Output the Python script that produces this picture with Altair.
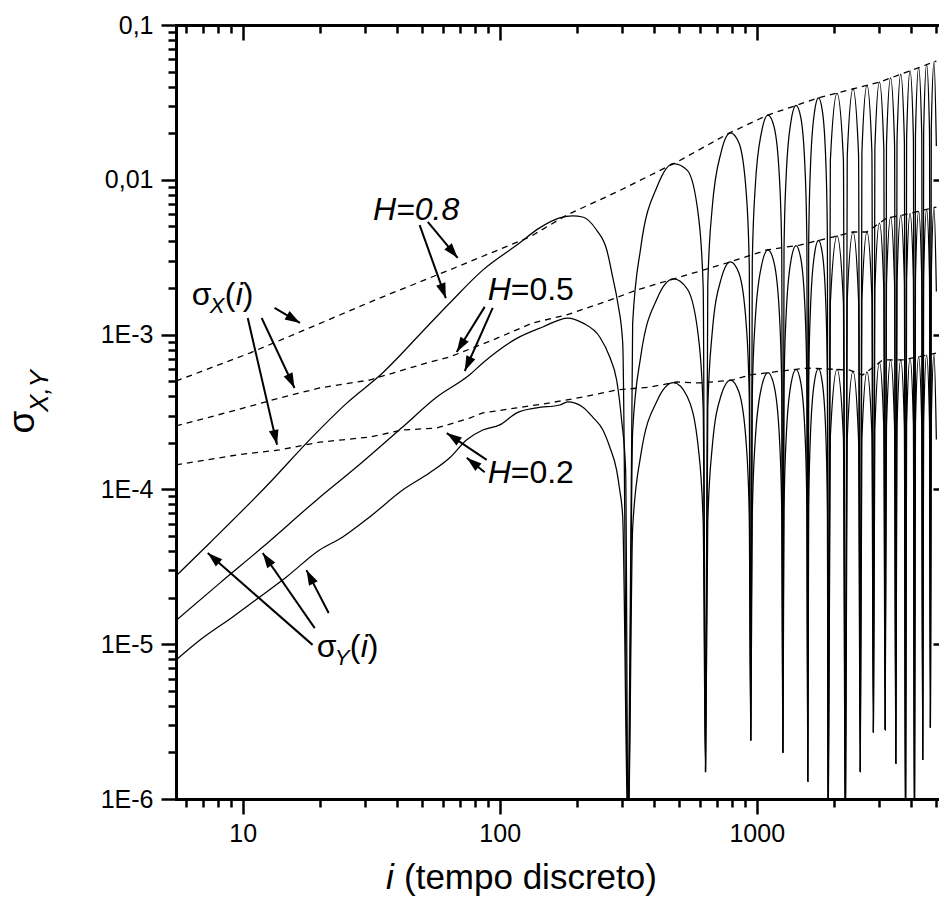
import math
import altair as alt
import pandas as pd

FONT = "Liberation Sans"

# ---------------- values ----------------
# sigma_X(i)  (dashed curves)
DX08_I = [5.5, 10.65, 16.7, 32.6, 63.9, 130.8, 182.3, 285.3, 488, 785, 1104, 1406, 1728, 2363, 3010, 5000]
DX08_V = [5.01e-4, 7.6e-4, 1.04e-3, 1.67e-3, 2.62e-3, 4.27e-3, 5.92e-3, 8.34e-3, 1.30e-2, 2.01e-2,
          2.62e-2, 3.0e-2, 3.38e-2, 3.86e-2, 4.28e-2, 5.85e-2]
DX05_I = [5.5, 9.48, 13.93, 19.9, 31.2, 53.4, 63.9, 93.9, 134.4, 182.3, 268, 341, 488, 785, 1094,
          1470, 1975, 2363, 2679, 3204, 3698, 5000]
DX05_V = [2.57e-4, 3.26e-4, 3.90e-4, 4.52e-4, 5.09e-4, 6.65e-4, 7.17e-4, 9.22e-4, 1.19e-3, 1.34e-3,
          1.67e-3, 1.94e-3, 2.32e-3, 2.94e-3, 3.52e-3, 3.79e-3, 4.27e-3, 4.60e-3, 4.60e-3, 5.66e-3,
          5.92e-3, 6.67e-3]
DX02_I = [5.5, 9.48, 13.93, 19.9, 24.5, 31.2, 41.9, 56.9, 76.4, 85.9, 116.5, 156.5, 210.4, 285,
          383.5, 488, 600, 806, 939, 1154, 1565, 2301, 2585, 3093, 3698, 5000]
DX02_V = [1.44e-4, 1.67e-4, 1.80e-4, 2.02e-4, 2.09e-4, 2.18e-4, 2.42e-4, 2.49e-4, 2.89e-4, 3.12e-4,
          3.36e-4, 3.62e-4, 3.95e-4, 4.39e-4, 4.58e-4, 4.94e-4, 4.87e-4, 5.09e-4, 5.48e-4, 5.73e-4,
          6.08e-4, 5.90e-4, 5.48e-4, 6.86e-4, 6.86e-4, 7.60e-4]

# sigma_Y(i)  (solid curves) - part before the first zero
SY08_I = [5.5, 7.44, 12.7, 18.2, 25.4, 35.0, 52.0, 63.9, 85.9, 116.5, 143, 171, 192, 210, 238, 261,
          275, 288, 301]
SY08_V = [2.76e-5, 4.51e-5, 1.10e-4, 2.09e-4, 3.61e-4, 5.65e-4, 1.12e-3, 1.60e-3, 2.61e-3, 3.79e-3,
          4.89e-3, 5.67e-3, 5.84e-3, 5.75e-3, 4.74e-3, 3.52e-3, 2.36e-3, 1.60e-3, 8.83e-4]
SY05_I = [5.5, 8.14, 11.96, 19.4, 27.8, 41.9, 56.9, 76.4, 85.9, 116.5, 147, 184, 210, 245, 268, 285,
          298, 309]
SY05_V = [1.42e-5, 2.48e-5, 4.24e-5, 8.55e-5, 1.40e-4, 2.53e-4, 3.95e-4, 5.50e-4, 6.56e-4, 9.45e-4,
          1.12e-3, 1.28e-3, 1.19e-3, 9.65e-4, 7.16e-4, 5.09e-4, 2.81e-4, 1.33e-4]
SY02_I = [5.5, 6.80, 9.14, 11.65, 14.8, 19.9, 24.5, 31.2, 41.9, 53.4, 63.9, 74.4, 85.9, 100, 116.5,
          139.3, 171, 184, 210, 230, 252, 268, 285, 293, 301]
SY02_V = [7.9e-6, 1.06e-5, 1.50e-5, 2.02e-5, 2.72e-5, 4.06e-5, 4.93e-5, 6.64e-5, 9.91e-5, 1.28e-4,
          1.60e-4, 2.09e-4, 2.42e-4, 2.61e-4, 3.12e-4, 3.36e-4, 3.51e-4, 3.67e-4, 3.41e-4, 2.93e-4,
          2.42e-4, 1.88e-4, 1.33e-4, 9.91e-5, 6.64e-5]

# sigma_Y(i) - oscillating part (shared abscissae, each lobe starts at a zero)
OSC_I = [316, 329, 354, 411, 474, 537, 594, 619,
         632, 645, 670, 727, 790, 853, 910, 935,
         948, 961, 986, 1043, 1106, 1169, 1226, 1251,
         1264, 1277, 1302, 1359, 1422, 1485, 1542, 1567,
         1580, 1593, 1618, 1675, 1738, 1801, 1858, 1883,
         1896, 1934, 2054, 2174,
         2212, 2250, 2370, 2490,
         2528, 2566, 2686, 2806,
         2844, 2882, 3002, 3122,
         3160, 3198, 3318, 3438,
         3476, 3514, 3634, 3754,
         3792, 3830, 3950, 4070,
         4108, 4146, 4266, 4386,
         4424, 4462, 4582, 4702,
         4740, 4778, 4898, 5000]
SY08_OSC = [5e-7, 1.18e-3, 3.67e-3, 9.14e-3, 1.27e-2, 1.15e-2, 5.73e-3, 2.02e-3,
            1.5e-6, 2.10e-3, 6.40e-3, 1.51e-2, 2.01e-2, 1.73e-2, 8.30e-3, 2.88e-3,
            2.4e-6, 2.94e-3, 8.83e-3, 2.02e-2, 2.62e-2, 2.19e-2, 1.02e-2, 3.52e-3,
            2.0e-6, 3.56e-3, 1.06e-2, 2.38e-2, 3.02e-2, 2.51e-2, 1.16e-2, 4.00e-3,
            1.3e-6, 4.04e-3, 1.20e-2, 2.68e-2, 3.38e-2, 2.78e-2, 1.28e-2, 4.39e-3,
            5e-7, 1.33e-2, 3.62e-2, 1.35e-2,
            5e-7, 1.42e-2, 3.86e-2, 1.45e-2,
            1.5e-6, 1.50e-2, 4.07e-2, 1.52e-2,
            2.7e-6, 1.58e-2, 4.28e-2, 1.61e-2,
            2.8e-6, 1.67e-2, 4.55e-2, 1.70e-2,
            1.7e-6, 1.77e-2, 4.81e-2, 1.79e-2,
            5e-7, 1.86e-2, 5.06e-2, 1.88e-2,
            5e-7, 1.95e-2, 5.31e-2, 1.97e-2,
            1.8e-6, 2.04e-2, 5.55e-2, 2.06e-2,
            2.9e-6, 2.13e-2, 5.78e-2, 1.65e-2]
SY05_OSC = [5e-7, 2.38e-4, 7.28e-4, 1.73e-3, 2.29e-3, 1.97e-3, 9.44e-4, 3.28e-4,
            1.5e-6, 3.34e-4, 1.00e-3, 2.29e-3, 2.95e-3, 2.49e-3, 1.17e-3, 4.06e-4,
            2.4e-6, 4.11e-4, 1.22e-3, 2.77e-3, 3.53e-3, 2.90e-3, 1.33e-3, 4.56e-4,
            2.0e-6, 4.58e-4, 1.36e-3, 3.01e-3, 3.76e-3, 3.08e-3, 1.42e-3, 4.88e-4,
            1.3e-6, 4.91e-4, 1.45e-3, 3.24e-3, 4.06e-3, 3.33e-3, 1.53e-3, 5.25e-4,
            5e-7, 1.60e-3, 4.35e-3, 1.62e-3,
            5e-7, 1.69e-3, 4.60e-3, 1.69e-3,
            1.5e-6, 1.69e-3, 4.60e-3, 1.75e-3,
            2.7e-6, 1.93e-3, 5.25e-3, 1.98e-3,
            2.8e-6, 2.11e-3, 5.73e-3, 2.13e-3,
            1.7e-6, 2.17e-3, 5.90e-3, 2.20e-3,
            5e-7, 2.24e-3, 6.08e-3, 2.27e-3,
            5e-7, 2.31e-3, 6.27e-3, 2.33e-3,
            1.8e-6, 2.37e-3, 6.43e-3, 2.39e-3,
            2.9e-6, 2.42e-3, 6.58e-3, 1.9e-3]
SY02_OSC = [5e-7, 5.61e-5, 1.67e-4, 3.78e-4, 4.89e-4, 3.97e-4, 1.79e-4, 6.12e-5,
            1.5e-6, 6.17e-5, 1.82e-4, 4.06e-4, 5.08e-4, 4.24e-4, 1.99e-4, 6.85e-5,
            2.4e-6, 6.90e-5, 2.04e-4, 4.54e-4, 5.68e-4, 4.65e-4, 2.13e-4, 7.30e-5,
            2.0e-6, 7.33e-5, 2.16e-4, 4.79e-4, 5.97e-4, 4.86e-4, 2.23e-4, 7.62e-5,
            1.3e-6, 7.60e-5, 2.23e-4, 4.90e-4, 6.03e-4, 4.86e-4, 2.21e-4, 7.52e-5,
            5e-7, 2.19e-4, 5.96e-4, 2.18e-4,
            5e-7, 2.13e-4, 5.79e-4, 2.10e-4,
            1.5e-6, 2.12e-4, 5.75e-4, 2.30e-4,
            2.7e-6, 2.43e-4, 6.61e-4, 2.50e-4,
            2.8e-6, 2.52e-4, 6.86e-4, 2.52e-4,
            1.7e-6, 2.52e-4, 6.86e-4, 2.55e-4,
            5e-7, 2.58e-4, 7.02e-4, 2.61e-4,
            5e-7, 2.65e-4, 7.19e-4, 2.67e-4,
            1.8e-6, 2.71e-4, 7.36e-4, 2.73e-4,
            2.9e-6, 2.77e-4, 7.52e-4, 2.1e-4]

# arrows (start i, start value, tip i, tip value)
ARROWS = [
    (13.3, 1.49e-3, 16.7, 1.19e-3),   # sigma_X -> H=0.8
    (11.85, 1.28e-3, 15.9, 4.52e-4),  # sigma_X -> H=0.5
    (10.46, 1.28e-3, 13.6, 1.94e-4),  # sigma_X -> H=0.2
    (18.7, 9.9e-6, 7.31, 3.88e-5),    # sigma_Y
    (19.06, 1.27e-5, 11.96, 3.88e-5),
    (21.6, 1.59e-5, 17.7, 3.01e-5),
    (52.5, 5.34e-3, 68.6, 3.13e-3),   # H=0.8
    (48.8, 5.1e-3, 61.7, 1.72e-3),
    (87.4, 1.51e-3, 68.0, 7.72e-4),   # H=0.5
    (93.9, 1.49e-3, 73.1, 5.82e-4),
    (89.0, 1.55e-4, 62.2, 2.31e-4),   # H=0.2
    (87.4, 1.29e-4, 74.4, 1.60e-4),
]

Y_MAJOR = [1e-6, 1e-5, 1e-4, 1e-3, 1e-2, 1e-1]
Y_MINOR = [m * d for d in Y_MAJOR[:-1] for m in range(2, 10)]
X_MAJOR = [10, 100, 1000]
X_MINOR = [6, 7, 8, 9] + [m * 10 for m in range(2, 10)] + [m * 100 for m in range(2, 10)] + [2000, 3000, 4000, 5000]

# ---------------- geometry ----------------
W, H = 763, 774
X_DOMAIN = [5.5, 5500]
X_RANGE = 771
Y_DOMAIN = [1e-6, 0.1]
XS = alt.Scale(type="log", domain=X_DOMAIN, range=[0, X_RANGE], nice=False)
YS = alt.Scale(type="log", domain=Y_DOMAIN, nice=False)
PX_DEC_X = X_RANGE / math.log10(X_DOMAIN[1] / X_DOMAIN[0])
PX_DEC_Y = H / math.log10(Y_DOMAIN[1] / Y_DOMAIN[0])


def series(name, xs, ys):
    assert len(xs) == len(ys), name
    return pd.DataFrame({"curve": name, "i": xs, "v": ys, "ord": list(range(len(xs)))})


dashed_df = pd.concat([series("0.8", DX08_I, DX08_V), series("0.5", DX05_I, DX05_V),
                       series("0.2", DX02_I, DX02_V)])
solid_df = pd.concat([series("0.8", SY08_I + OSC_I, SY08_V + SY08_OSC),
                      series("0.5", SY05_I + OSC_I, SY05_V + SY05_OSC),
                      series("0.2", SY02_I + OSC_I, SY02_V + SY02_OSC)])

arr = pd.DataFrame(ARROWS, columns=["x1", "y1", "x2", "y2"])
arr["ang"] = [
    (math.degrees(math.atan2((math.log10(r.x2) - math.log10(r.x1)) * PX_DEC_X,
                             (math.log10(r.y2) - math.log10(r.y1)) * PX_DEC_Y)) + 360) % 360
    for r in arr.itertuples()
]


def X(field="i"):
    return alt.X(f"{field}:Q", scale=XS, axis=None)


def Y(field="v"):
    return alt.Y(f"{field}:Q", scale=YS, axis=None)


dashed = alt.Chart(dashed_df).mark_line(color="black", strokeWidth=1.3, strokeDash=[6, 5], clip=True).encode(
    x=X(), y=Y(), detail="curve:N", order="ord:Q")
solid = alt.Chart(solid_df).mark_line(color="black", strokeWidth=1.25, interpolate="monotone", clip=True).encode(
    x=X(), y=Y(), detail="curve:N", order="ord:Q")

shafts = alt.Chart(arr).mark_rule(color="black", strokeWidth=2).encode(
    x=X("x1"), y=Y("y1"), x2="x2:Q", y2="y2:Q")
heads = alt.Chart(arr).mark_point(shape="M0,0L0.65,2L-0.65,2Z", size=225, filled=True, color="black",
                                  opacity=1, strokeWidth=0).encode(
    x=X("x2"), y=Y("y2"), angle=alt.Angle("ang:Q", scale=None))


def dtext(x, y, s, size, italic=False, dx=0, dy=0):
    return alt.Chart(pd.DataFrame({"i": [x], "v": [y], "t": [s]})).mark_text(
        font=FONT, fontSize=size, fontStyle="italic" if italic else "normal", align="left",
        baseline="alphabetic", dx=dx, dy=dy, color="black").encode(x=X(), y=Y(), text="t:N")


def ptext(px, py, s, size, italic=False, angle=0, align="left", baseline="alphabetic"):
    return alt.Chart(pd.DataFrame({"t": [s]})).mark_text(
        font=FONT, fontSize=size, fontStyle="italic" if italic else "normal", align=align,
        baseline=baseline, angle=angle, color="black").encode(
        x=alt.value(px), y=alt.value(py), text="t:N")


def sigma_label(x, y, sub):
    return [dtext(x, y, "σ", 32), dtext(x, y, sub, 22, True, dx=18, dy=8),
            dtext(x, y, "(", 32, dx=33), dtext(x, y, "i", 32, True, dx=44), dtext(x, y, ")", 32, dx=51)]


texts = []
texts += sigma_label(6.33, 1.55e-3, "X")
texts += sigma_label(19.4, 8.26e-6, "Y")
texts += [dtext(32.1, 5.5e-3, "H=0.8", 32, True)]
texts += [dtext(89.8, 1.67e-3, "H", 32, True), dtext(89.8, 1.67e-3, "=0.5", 32, dx=23)]
texts += [dtext(89.8, 1.10e-4, "H", 32, True), dtext(89.8, 1.10e-4, "=0.2", 32, dx=23)]

# axis titles (pixel positions relative to plot origin)
texts += [ptext(-142, 397, "σ", 37, angle=270, align="center"),
          ptext(-128, 366, "X,Y", 26, italic=True, angle=270, align="center"),
          ptext(210, 864, "i", 35, italic=True),
          ptext(228, 864, "(tempo discreto)", 35)]

# ---------------- axes ----------------
COMMON = dict(grid=False, title=None, domainColor="black", tickColor="black", labelColor="black",
              labelFont=FONT, tickWidth=2.5, domainWidth=3, domainCap="square", labelOverlap=False)
Y_LABEL = ("round(log(datum.value)/LN10) == -1 ? '0,1' : round(log(datum.value)/LN10) == -2 ? '0,01' : "
           "'1E' + round(log(datum.value)/LN10)")

left_major = alt.Axis(orient="left", values=Y_MAJOR, tickSize=15, labelFontSize=25, labelPadding=8,
                      labelExpr=Y_LABEL, domain=True, **COMMON)
left_minor = alt.Axis(orient="left", values=Y_MINOR, tickSize=8, labels=False, domain=False, **COMMON)
bottom_major = alt.Axis(orient="bottom", values=X_MAJOR, tickSize=15, labelFontSize=25, labelPadding=7,
                        format="d", labelFlush=False, domain=True, **COMMON)
bottom_minor = alt.Axis(orient="bottom", values=X_MINOR, tickSize=8, labels=False, domain=False, **COMMON)
top_line = alt.Axis(orient="top", values=X_MAJOR, ticks=False, labels=False, domain=True, **COMMON)
top_major = alt.Axis(orient="top", values=X_MAJOR, tickSize=15, offset=-15, labels=False, domain=False, **COMMON)
top_minor = alt.Axis(orient="top", values=X_MINOR, tickSize=8, offset=-8, labels=False, domain=False, **COMMON)
right_major = alt.Axis(orient="right", values=Y_MAJOR, tickSize=14, offset=-6, labels=False, domain=False, **COMMON)
right_minor = alt.Axis(orient="right", values=Y_MINOR, tickSize=8, offset=0, labels=False, domain=False, **COMMON)

anchor = pd.DataFrame({"i": [10.0], "v": [1e-3]})


def axis_layer(xa, ya):
    return alt.Chart(anchor).mark_point(opacity=0).encode(
        x=alt.X("i:Q", scale=XS, axis=xa), y=alt.Y("v:Q", scale=YS, axis=ya))


axes = [axis_layer(bottom_major, left_major), axis_layer(bottom_minor, left_minor),
        axis_layer(top_line, None), axis_layer(top_major, right_major), axis_layer(top_minor, right_minor)]

chart = alt.layer(dashed, solid, shafts, heads, *texts, *axes).properties(
    width=W, height=H,
    padding={"left": 176, "top": 25, "right": 0, "bottom": 114},
    autosize=alt.AutoSizeParams(type="none"),
).resolve_axis(x="independent", y="independent").configure_view(stroke=None)

chart.save("out.html", embed_options={"renderer": "svg", "actions": False})
